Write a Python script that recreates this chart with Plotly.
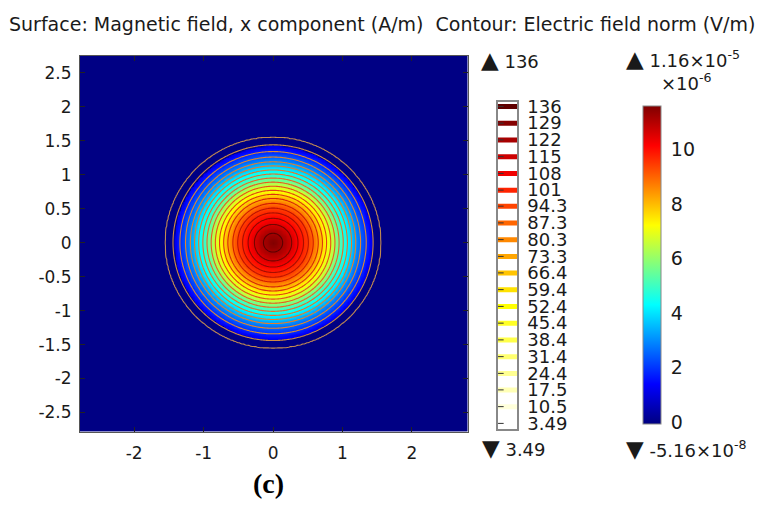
import numpy as np
import plotly.graph_objects as go
from plotly.colors import sample_colorscale

W, H = 767, 505

# ---------------- data ----------------
# Surface: magnetic field x component, radial profile (units of 1e-6 A/m)
hx_radius = [0.0, 0.19, 0.34, 0.50, 0.60, 0.75, 0.85, 0.91, 1.00, 1.10, 1.20, 1.30, 1.42, 1.43, 4.0]
hx_value = [11.6, 11.0, 10.2, 9.5, 8.7, 7.3, 6.6, 5.8, 4.8, 4.0, 3.0, 2.2, 1.2, 0.0, 0.0]

# Contour: electric field norm, radial profile (V/m)
e_radius = [0.0, 0.14, 0.27, 0.36, 0.44, 0.51, 0.58, 0.65, 0.71, 0.77, 0.83, 0.89,
            0.95, 1.01, 1.07, 1.13, 1.19, 1.26, 1.34, 1.44, 1.55, 1.80, 4.0]
e_value = [141, 136, 129, 122, 115, 108, 101, 94.3, 87.3, 80.3, 73.3, 66.4,
           59.4, 52.4, 45.4, 38.4, 31.4, 24.4, 17.5, 10.5, 3.49, 0.5, 0.05]

contour_levels = [3.49, 10.5, 17.5, 24.4, 31.4, 38.4, 45.4, 52.4, 59.4, 66.4,
                  73.3, 80.3, 87.3, 94.3, 101, 108, 115, 122, 129, 136]
contour_labels = ["3.49", "10.5", "17.5", "24.4", "31.4", "38.4", "45.4", "52.4", "59.4", "66.4",
                  "73.3", "80.3", "87.3", "94.3", "101", "108", "115", "122", "129", "136"]

surface_min = -0.0516   # x1e-6
surface_max = 11.6      # x1e-6
cbar_ticks = [0, 2, 4, 6, 8, 10]
cbar_labels = ["0", "2", "4", "6", "8", "10"]

x_ticks = [-2, -1, 0, 1, 2]
x_labels = ["-2", "-1", "0", "1", "2"]
y_ticks = [-2.5, -2, -1.5, -1, -0.5, 0, 0.5, 1, 1.5, 2, 2.5]
y_labels = ["-2.5", "-2", "-1.5", "-1", "-0.5", "0", "0.5", "1", "1.5", "2", "2.5"]

# ---------------- styles ----------------
FONT = "DejaVu Sans"
TXT = "#1a1a1a"
jet = [[0.0, "#000080"], [0.125, "#0000ff"], [0.375, "#00ffff"],
       [0.625, "#ffff00"], [0.875, "#ff0000"], [1.0, "#800000"]]
line_scale = [[0.0, "#c08850"], [0.12, "#e08a30"], [0.45, "#f06020"],
              [0.75, "#d01800"], [1.0, "#5a0000"]]
legend_scale = [[0.0, "#ffffff"], [0.37, "#ffff00"], [0.58, "#ff8800"],
                [0.74, "#ff2000"], [0.79, "#f00000"], [1.0, "#600000"]]


def px(x):
    return x / W


def py(y):
    return 1 - y / H


# ---------------- grid built from the radial profiles ----------------
g = np.linspace(-2.8, 2.8, 301)
XX, YY = np.meshgrid(g, g)
RR = np.hypot(XX, YY)
Z_surface = np.interp(RR, hx_radius, hx_value)
Z_contour = np.interp(RR, e_radius, e_value)

fig = go.Figure()

fig.add_trace(go.Heatmap(
    x=g, y=g, z=Z_surface, zmin=surface_min, zmax=surface_max,
    colorscale=jet, zsmooth="best", hoverinfo="skip",
    colorbar=dict(
        x=px(643), xanchor="left", xpad=0, ypad=0,
        y=py(264.5), yanchor="middle", len=325 / H, lenmode="fraction",
        thickness=18, thicknessmode="pixels",
        outlinewidth=1, outlinecolor="#888888",
        tickvals=cbar_ticks, ticktext=cbar_labels,
        ticks="outside", ticklen=6, tickcolor="rgba(0,0,0,0)",
        tickfont=dict(family=FONT, size=19, color=TXT),
    ),
))

step = (contour_levels[-1] - contour_levels[0]) / (len(contour_levels) - 1)
fig.add_trace(go.Contour(
    x=g, y=g, z=Z_contour, autocontour=False,
    contours=dict(start=contour_levels[0], end=contour_levels[-1] + 0.01,
                  size=step, coloring="lines"),
    colorscale=line_scale, line=dict(width=1.1), showscale=False,
    hoverinfo="skip",
))

# ---------------- contour legend (separate little axes) ----------------
lvl_min, lvl_max = contour_levels[0], contour_levels[-1]
fracs = [(v - lvl_min) / (lvl_max - lvl_min) for v in contour_levels]
leg_colors = sample_colorscale(legend_scale, fracs)
for lv, col in zip(contour_levels, leg_colors):
    fig.add_trace(go.Scatter(
        x=[0, 1], y=[lv, lv], mode="lines", line=dict(color=col, width=5),
        xaxis="x2", yaxis="y2", hoverinfo="skip", showlegend=False,
    ))
fig.add_trace(go.Scatter(
    x=[0.15] * len(contour_levels), y=contour_levels, mode="markers",
    marker=dict(symbol="line-ew", size=4, line=dict(width=1, color="#333333")),
    xaxis="x2", yaxis="y2", hoverinfo="skip", showlegend=False,
))

axis_common = dict(showgrid=False, zeroline=False, showline=True, mirror="ticks",
                   linecolor="#555555", linewidth=1, ticks="inside", ticklen=5,
                   tickcolor="#222222", tickfont=dict(family=FONT, size=17, color=TXT))

fig.update_layout(
    width=W, height=H, margin=dict(l=0, r=0, t=0, b=0),
    paper_bgcolor="white", plot_bgcolor="white", showlegend=False,
    xaxis=dict(domain=[px(80), px(467.5)], range=[-2.78, 2.80],
               tickvals=x_ticks, ticktext=x_labels, ticklabelstandoff=6, **axis_common),
    yaxis=dict(domain=[py(435), py(51)], range=[-2.78, 2.75],
               tickvals=y_ticks, ticktext=y_labels, ticklabelstandoff=4, **axis_common),
    xaxis2=dict(domain=[px(498), px(517)], range=[0, 1], anchor="y2",
                showgrid=False, zeroline=False, showticklabels=False, ticks="",
                showline=True, mirror=True, linecolor="#888888", linewidth=1.5),
    yaxis2=dict(domain=[py(432), py(98)], range=[1.32, 137.9], anchor="x2", side="right",
                showgrid=False, zeroline=False, showline=True, mirror=True,
                linecolor="#888888", linewidth=1.5, ticks="",
                tickvals=contour_labels and contour_levels, ticktext=contour_labels,
                ticklabelstandoff=5, tickfont=dict(family=FONT, size=18, color=TXT)),
)

TRI_UP = "<span style='font-size:23px'>▲</span>"
TRI_DN = "<span style='font-size:23px'>▼</span>"
ann = [
    dict(x=px(382), y=py(18), text="Surface: Magnetic field, x component (A/m)  Contour: Electric field norm (V/m)",
         xanchor="center", yanchor="middle", font=dict(family=FONT, size=19, color=TXT)),
    dict(x=px(479), y=py(55), text=TRI_UP + " 136", xanchor="left", yanchor="middle",
         font=dict(family=FONT, size=18, color=TXT)),
    dict(x=px(480), y=py(452), text=TRI_DN + " 3.49", xanchor="left", yanchor="middle",
         font=dict(family=FONT, size=18, color=TXT)),
    dict(x=px(624), y=py(54), text=TRI_UP + " 1.16×10<sup>-5</sup>", xanchor="left", yanchor="middle",
         font=dict(family=FONT, size=18, color=TXT)),
    dict(x=px(659), y=py(78), text="×10<sup>-6</sup>", xanchor="left", yanchor="middle",
         font=dict(family=FONT, size=18, color=TXT)),
    dict(x=px(624), y=py(453), text=TRI_DN + " -5.16×10<sup>-8</sup>", xanchor="left", yanchor="middle",
         font=dict(family=FONT, size=18, color=TXT)),
    dict(x=px(268), y=py(488), text="<b>(c)</b>", xanchor="center", yanchor="middle",
         font=dict(family="Liberation Serif", size=28, color="#000000")),
]
for a in ann:
    a.update(xref="paper", yref="paper", showarrow=False)
fig.update_layout(annotations=ann)

fig.write_html("out.html", config=dict(displayModeBar=False))
